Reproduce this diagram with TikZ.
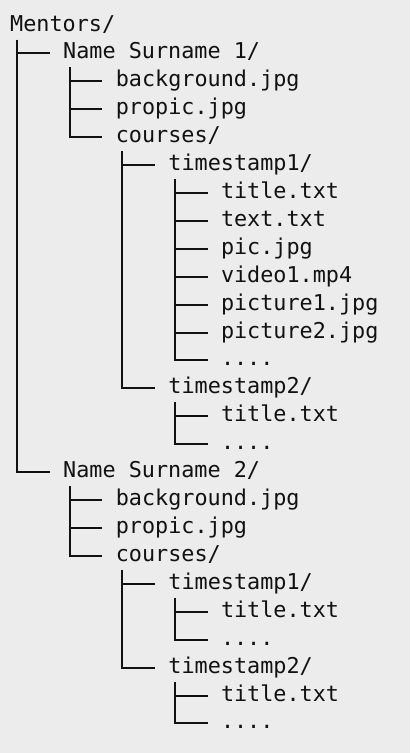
\documentclass[tikz,border=0pt]{standalone}
\usepackage{fontspec}
\setmonofont{DejaVu Sans Mono}
\definecolor{panelbg}{HTML}{ECECEC}
\definecolor{ink}{HTML}{111111}

\begin{document}
\begin{tikzpicture}[
  x=1pt, y=-1pt,
  every node/.style={font=\ttfamily\fontsize{21.8}{26}\selectfont, text=ink},
  entry/.style={anchor=west, inner sep=0pt, minimum height=27.9pt,
                text height=16pt, text depth=5pt},
  branch/.style={draw=ink, line width=2pt},
]
  % Panel
  \fill[panelbg] (0,0) rectangle (410,753);
  \useasboundingbox (0,0) rectangle (410,753);

  % Root
  \node[entry] (m) at (10, 25.5) {Mentors/};

  % First mentor
  \node[entry] (ns1)   at (63, 53)      {Name Surname 1/};
  \node[entry] (bg1)   at (115.6, 81) {background.jpg};
  \node[entry] (pp1)   at (115.6, 109) {propic.jpg};
  \node[entry] (cs1)   at (115.6, 137) {courses/};
  \node[entry] (ts11)  at (168.2, 165) {timestamp1/};
  \node[entry] (ts11a) at (220.8, 193) {title.txt};
  \node[entry] (ts11b) at (220.8, 221) {text.txt};
  \node[entry] (ts11c) at (220.8, 249) {pic.jpg};
  \node[entry] (ts11d) at (220.8, 277) {video1.mp4};
  \node[entry] (ts11e) at (220.8, 305) {picture1.jpg};
  \node[entry] (ts11f) at (220.8, 333) {picture2.jpg};
  \node[entry] (ts11g) at (220.8, 360) {....};
  \node[entry] (ts12)  at (168.2, 388) {timestamp2/};
  \node[entry] (ts12a) at (220.8, 416) {title.txt};
  \node[entry] (ts12b) at (220.8, 444) {....};

  % Second mentor
  \node[entry] (ns2)   at (63, 472)    {Name Surname 2/};
  \node[entry] (bg2)   at (115.6, 500) {background.jpg};
  \node[entry] (pp2)   at (115.6, 528) {propic.jpg};
  \node[entry] (cs2)   at (115.6, 556) {courses/};
  \node[entry] (ts21)  at (168.2, 584) {timestamp1/};
  \node[entry] (ts21a) at (220.8, 612) {title.txt};
  \node[entry] (ts21b) at (220.8, 640) {....};
  \node[entry] (ts22)  at (168.2, 668) {timestamp2/};
  \node[entry] (ts22a) at (220.8, 696) {title.txt};
  \node[entry] (ts22b) at (220.8, 723) {....};

  % Branches from the root
  \draw[branch] ([xshift=7pt]m.south west) |- ([xshift=-13.2pt]ns1.west);
  \draw[branch] ([xshift=7pt]m.south west) |- ([xshift=-13.2pt]ns2.west);

  % Branches of the first mentor
  \draw[branch] ([xshift=7pt]ns1.south west) |- ([xshift=-13.2pt]bg1.west);
  \draw[branch] ([xshift=7pt]ns1.south west) |- ([xshift=-13.2pt]pp1.west);
  \draw[branch] ([xshift=7pt]ns1.south west) |- ([xshift=-13.2pt]cs1.west);
  \draw[branch] ([xshift=6.4pt]cs1.south west) |- ([xshift=-13.2pt]ts11.west);
  \draw[branch] ([xshift=6.4pt]cs1.south west) |- ([xshift=-13.2pt]ts12.west);
  \draw[branch] ([xshift=6.8pt]ts11.south west) |- ([xshift=-13.2pt]ts11a.west);
  \draw[branch] ([xshift=6.8pt]ts11.south west) |- ([xshift=-13.2pt]ts11b.west);
  \draw[branch] ([xshift=6.8pt]ts11.south west) |- ([xshift=-13.2pt]ts11c.west);
  \draw[branch] ([xshift=6.8pt]ts11.south west) |- ([xshift=-13.2pt]ts11d.west);
  \draw[branch] ([xshift=6.8pt]ts11.south west) |- ([xshift=-13.2pt]ts11e.west);
  \draw[branch] ([xshift=6.8pt]ts11.south west) |- ([xshift=-13.2pt]ts11f.west);
  \draw[branch] ([xshift=6.8pt]ts11.south west) |- ([xshift=-13.2pt]ts11g.west);
  \draw[branch] ([xshift=6.8pt]ts12.south west) |- ([xshift=-13.2pt]ts12a.west);
  \draw[branch] ([xshift=6.8pt]ts12.south west) |- ([xshift=-13.2pt]ts12b.west);

  % Branches of the second mentor
  \draw[branch] ([xshift=7pt]ns2.south west) |- ([xshift=-13.2pt]bg2.west);
  \draw[branch] ([xshift=7pt]ns2.south west) |- ([xshift=-13.2pt]pp2.west);
  \draw[branch] ([xshift=7pt]ns2.south west) |- ([xshift=-13.2pt]cs2.west);
  \draw[branch] ([xshift=6.4pt]cs2.south west) |- ([xshift=-13.2pt]ts21.west);
  \draw[branch] ([xshift=6.4pt]cs2.south west) |- ([xshift=-13.2pt]ts22.west);
  \draw[branch] ([xshift=6.8pt]ts21.south west) |- ([xshift=-13.2pt]ts21a.west);
  \draw[branch] ([xshift=6.8pt]ts21.south west) |- ([xshift=-13.2pt]ts21b.west);
  \draw[branch] ([xshift=6.8pt]ts22.south west) |- ([xshift=-13.2pt]ts22a.west);
  \draw[branch] ([xshift=6.8pt]ts22.south west) |- ([xshift=-13.2pt]ts22b.west);
\end{tikzpicture}
\end{document}
